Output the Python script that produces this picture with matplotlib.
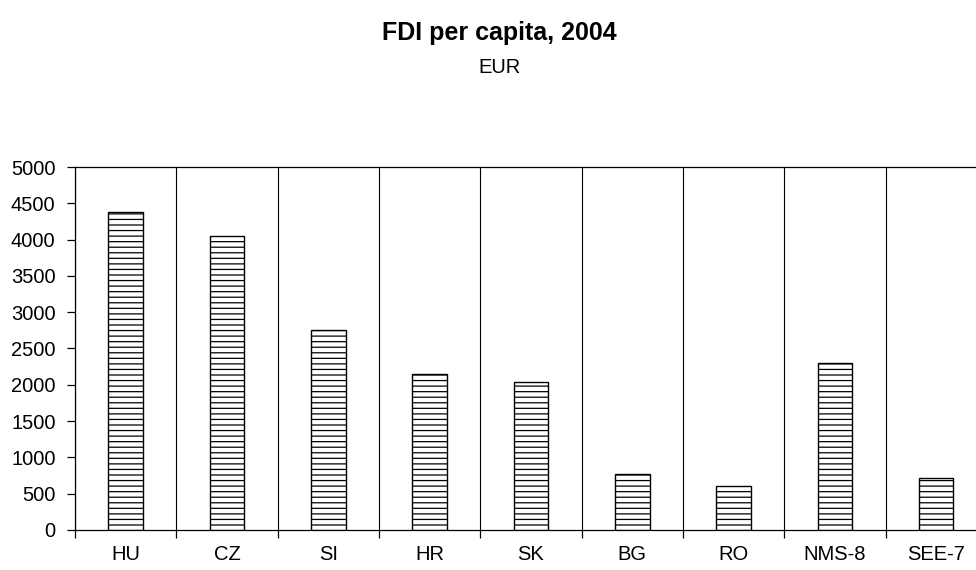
import matplotlib
matplotlib.use('Agg')
import matplotlib.pyplot as plt
import numpy as np

countries = ['HU', 'CZ', 'SI', 'HR', 'SK', 'BG', 'RO', 'NMS-8', 'SEE-7']
fdi = [4380, 4050, 2755, 2150, 2040, 770, 610, 2295, 712]

plt.rcParams['font.family'] = ['Liberation Sans', 'DejaVu Sans']
plt.rcParams['hatch.color'] = '#555555'
plt.rcParams['hatch.linewidth'] = 0.9

fig = plt.figure(figsize=(9.76, 5.70), dpi=100)
ax = fig.add_axes([0.0768, 0.0702, 0.9344, 0.6368])

x = np.arange(len(countries))
ax.bar(x, fdi, width=0.34, color='white', edgecolor='black', linewidth=1.0,
       hatch='---', zorder=3)

ax.set_xlim(-0.5, len(countries) - 0.5)
ax.set_ylim(0, 5000)
ax.set_yticks(np.arange(0, 5001, 500))
ax.tick_params(axis='y', labelsize=14.5, length=6, width=0.9, pad=8, direction='out')

# boundaries between categories carry the ticks and the separators
ax.set_xticks(np.arange(-0.5, len(countries), 1.0))
ax.set_xticklabels([])
ax.tick_params(axis='x', which='major', length=6, width=0.9, direction='out')
ax.set_xticks(x, minor=True)
ax.set_xticklabels(countries, minor=True)
ax.tick_params(axis='x', which='minor', length=0, labelsize=14.5, pad=11)
ax.grid(axis='x', which='major', color='black', linewidth=0.8, zorder=1)

for s in ax.spines.values():
    s.set_linewidth(0.9)

fig.text(0.512, 0.942, 'FDI per capita, 2004', ha='center', va='center',
         fontsize=18, fontweight='bold')
fig.text(0.512, 0.881, 'EUR', ha='center', va='center', fontsize=14.5)

fig.savefig('out.png', dpi=100)
